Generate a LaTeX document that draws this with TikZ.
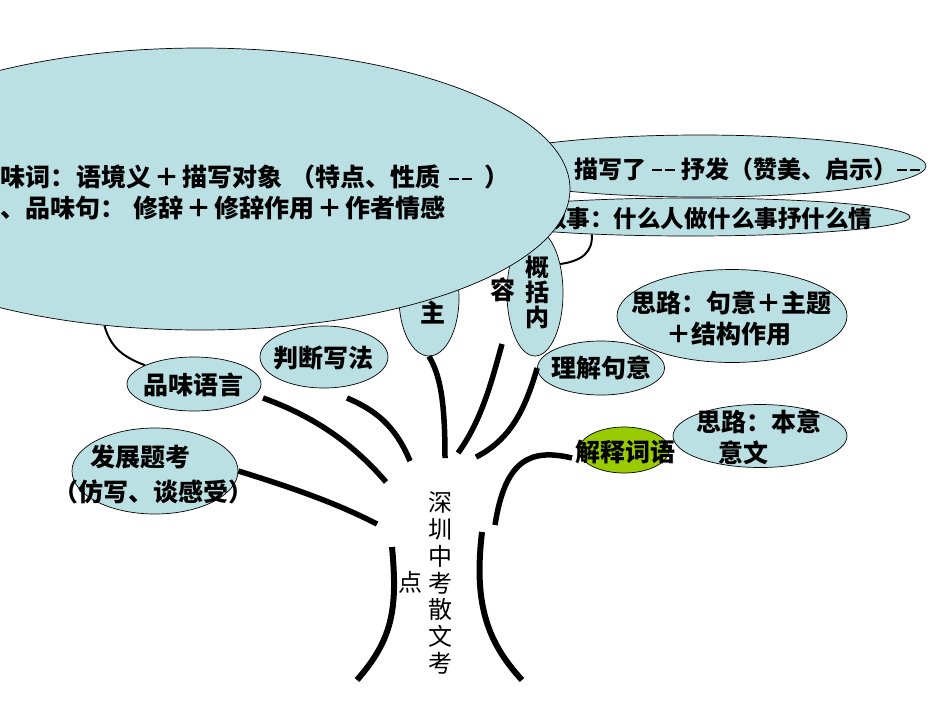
\documentclass[tikz,border=0pt]{standalone}
\usepackage{fontspec}
\setmainfont{Noto Sans CJK SC}
\usetikzlibrary{shapes.geometric}
\definecolor{lb}{RGB}{187,224,227}
\definecolor{lg}{RGB}{153,204,0}
\newcommand\mydash{\rule[7pt]{10pt}{1.7pt}\hspace{3pt}\rule[7pt]{10pt}{1.7pt}}
\tikzset{
  bub/.style={ellipse, draw=black, line width=0.7pt, fill=lb, inner sep=0pt},
  gbub/.style={bub, fill=lg},
  lab/.style={font=\fontsize{25}{30}\selectfont\bfseries, inner sep=0pt},
  vlab/.style={font=\fontsize{24}{26.7}\selectfont, inner sep=0pt, align=center},
  twig/.style={line width=2pt},
  limb/.style={line width=5.5pt},
}
\begin{document}
\begin{tikzpicture}[x=1pt,y=-1pt]
\useasboundingbox (0,0) rectangle (950,713);
% ellipses partly hidden under the big one
\node[bub, minimum width=60pt, minimum height=116pt] (zhu) at (429,298) {};
\node[lab] (zhut) at (433,313) {主};
\node[bub, minimum width=56pt, minimum height=126pt] (gk) at (535,293) {};
\node[vlab, font=\fontsize{24}{25}\selectfont\bfseries] (gkt) at (537,292) {概\\括\\内};
\node[bub, minimum width=452pt, minimum height=62pt] (ms) at (700,166) {};
\node[lab, anchor=west, font=\fontsize{24}{30}\selectfont\bfseries] (mst) at (574,169) {描写了\hspace{6pt}\mydash\hspace{6pt}抒发（赞美、启示）\mydash};
\node[bub, minimum width=440pt, minimum height=38pt] (xs) at (690,217) {};
\node[lab, anchor=west, font=\fontsize{23.5}{30}\selectfont\bfseries] (xst) at (543,219) {叙事：什么人做什么事抒什么情};
\draw[twig] (xs.190.5) .. controls (593,252) and (582,261) .. (gk.49);
% big ellipse
\node[bub, minimum width=740pt, minimum height=282pt] (big) at (200,189) {};
\node[lab, anchor=west] (bl1) at (0,177) {味词：\hspace{1pt}语境义\hspace{3pt}＋\hspace{3pt}描写对象\hspace{8pt}（特点、性质\hspace{9pt}\mydash\hspace{12pt}）};
\node[lab, anchor=west] (bl2) at (0,208) {、品味句：\hspace{8pt}修辞\hspace{3pt}＋\hspace{3pt}修辞作用\hspace{3pt}＋\hspace{3pt}作者情感};
\node[lab] (rong) at (503,290) {容};
% right side
\node[bub, minimum width=230pt, minimum height=93pt] (sl1) at (732,316) {};
\node[lab] (sl1a) at (731,303) {思路：句意＋主题};
\node[lab] (sl1b) at (729,334) {＋结构作用};
\node[bub, minimum width=127pt, minimum height=54pt] (lj) at (601,368) {};
\node[lab] (ljt) at (601,368) {理解句意};
\node[bub, minimum width=174pt, minimum height=63pt] (sl2) at (760,436) {};
\node[lab] (sl2a) at (759,422) {思路：本意};
\node[lab] (sl2b) at (743,453) {意文};
\node[gbub, minimum width=90pt, minimum height=46pt] (js) at (624,450) {};
\node[lab] (jst) at (625,452) {解释词语};
% left side
\node[bub, minimum width=128pt, minimum height=62pt] (pd) at (324,357) {};
\node[lab] (pdt) at (323,358) {判断写法};
\node[bub, minimum width=134pt, minimum height=54pt] (pw) at (194,384) {};
\node[lab] (pwt) at (193,385) {品味语言};
\node[bub, minimum width=166pt, minimum height=86pt] (fz) at (155,471) {};
\node[lab] (fza) at (140,457) {发展题考};
\node[lab] (fzb) at (153,492) {（仿写、谈感受）};
\draw[twig] (big.235) .. controls (110,345) and (120,356) .. (pw.159);
% branches
\coordinate (e1) at (377,524);
\coordinate (e2) at (386,482);
\coordinate (e3) at (410,461);
\coordinate (e4) at (445,458);
\coordinate (e5) at (458,453);
\coordinate (e6) at (476,457);
\coordinate (e7) at (495,525);
\coordinate (s2) at (263,398);
\coordinate (s3) at (347,398);
\coordinate (s5) at (502,344);
\coordinate (s7) at (572,458);
\draw[limb] (fz.east) .. controls (300,490) and (340,505) .. (e1);
\draw[limb] (s2) .. controls (310,415) and (350,440) .. (e2);
\draw[limb] (s3) .. controls (375,410) and (395,425) .. (e3);
\draw[limb] (zhu.south) .. controls (440,375) and (445,400) .. (e4);
\draw[limb] (s5) .. controls (492,380) and (482,420) .. (e5);
\draw[limb] (lj.west) .. controls (525,410) and (510,440) .. (e6);
\draw[limb] (s7) .. controls (530,448) and (505,460) .. (e7);
% trunk
\coordinate (l0) at (392,547);
\coordinate (l1) at (357,680);
\coordinate (r0) at (482,532);
\coordinate (r1) at (522,680);
\draw[limb, line width=6pt] (l0) .. controls (398,610) and (392,640) .. (l1);
\draw[limb, line width=6pt] (r0) .. controls (474,600) and (485,640) .. (r1);
\node[vlab] (title) at (440,583) {深\\圳\\中\\考\\散\\文\\考};
\node[vlab] (dian) at (410,582) {点};
\end{tikzpicture}
\end{document}
